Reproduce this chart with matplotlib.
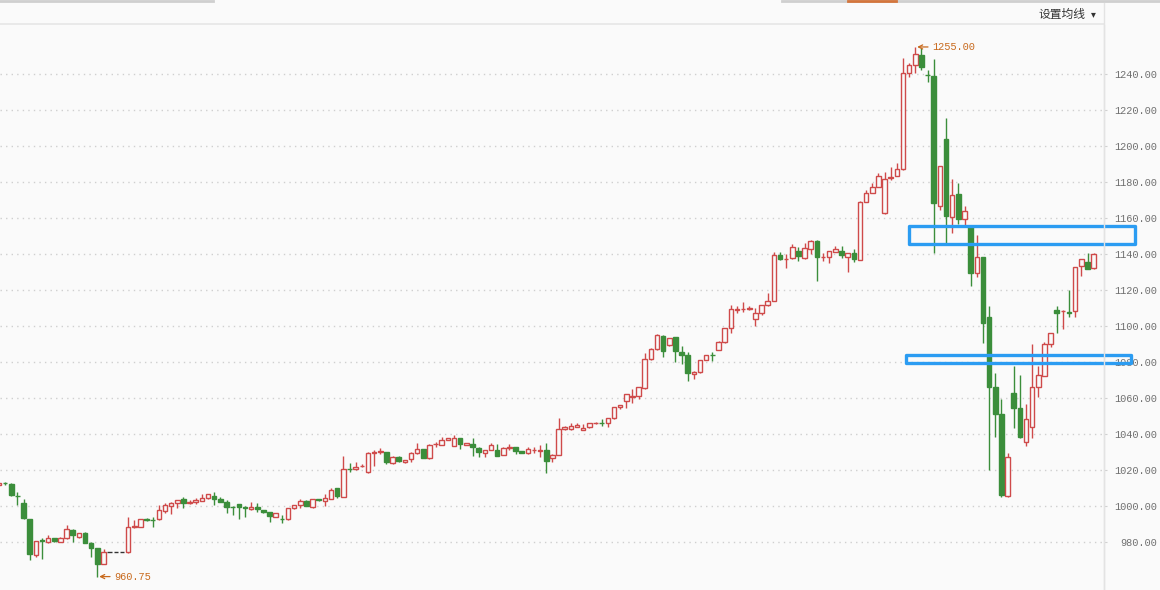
import matplotlib
matplotlib.use('Agg')
import matplotlib.pyplot as plt
from matplotlib.patches import Rectangle
from matplotlib.lines import Line2D
import numpy as np

# ---------------- data ----------------
opens = [1011.7, 1012.6, 1012.2, 1005.8, 1001.5, 992.6, 972.8, 980.9, 979.8, 982.0,
         980.2, 982.0, 986.7, 983.0, 985.2, 979.6, 976.5, 967.8, 974.6, 974.6,
         974.6, 974.3, 988.3, 988.5, 992.8, 992.3, 992.6, 997.2, 1000.2, 1001.5,
         1003.7, 1001.5, 1002.2, 1002.8, 1004.3, 1005.6, 1003.9, 1002.2, 999.6, 1000.9,
         999.4, 998.2, 999.3, 997.8, 996.5, 994.1, 992.9, 992.8, 998.7, 1000.4,
         1002.8, 999.6, 1003.7, 1003.0, 1004.1, 1009.8, 1005.2, 1020.5, 1020.4, 1022.2,
         1018.7, 1029.3, 1030.2, 1029.8, 1023.7, 1027.4, 1024.3, 1025.9, 1029.3, 1031.5,
         1026.5, 1034.3, 1033.9, 1036.7, 1033.3, 1037.6, 1033.9, 1034.4, 1032.4, 1029.6,
         1031.1, 1031.1, 1028.3, 1032.0, 1032.6, 1030.6, 1029.3, 1031.1, 1030.6, 1031.1,
         1026.9, 1028.3, 1042.6, 1042.6, 1044.1, 1042.2, 1043.7, 1046.0, 1046.3, 1045.9,
         1048.7, 1054.8, 1058.5, 1060.4, 1061.3, 1065.4, 1081.5, 1087.0, 1094.4, 1089.4,
         1093.7, 1085.7, 1083.9, 1073.3, 1074.3, 1081.1, 1084.0, 1086.7, 1090.9, 1098.7,
         1108.6, 1109.3, 1109.3, 1103.7, 1107.4, 1111.5, 1114.1, 1139.4, 1137.0, 1137.6,
         1141.7, 1138.0, 1142.6, 1147.2, 1138.1, 1138.1, 1141.3, 1141.7, 1138.5, 1140.4,
         1136.7, 1169.1, 1174.1, 1177.4, 1162.6, 1182.4, 1183.5, 1187.0, 1240.7, 1245.0,
         1250.6, 1239.6, 1238.9, 1166.7, 1204.0, 1160.7, 1173.3, 1159.3, 1155.2, 1129.3,
         1138.3, 1104.8, 1065.9, 1051.1, 1005.6, 1063.0, 1054.6, 1035.7, 1043.7, 1065.9,
         1072.4, 1089.8, 1108.9, 1108.3, 1108.0, 1108.5, 1133.3, 1135.4, 1132.0]
highs = [1013.0, 1013.5, 1012.6, 1008.0, 1003.7, 992.8, 980.8, 982.0, 983.9, 982.4,
         982.6, 989.5, 987.0, 985.2, 985.8, 979.8, 976.8, 975.9, 974.6, 974.6,
         974.6, 993.7, 992.2, 992.8, 993.5, 993.7, 1000.6, 1001.5, 1002.4, 1003.2,
         1004.8, 1003.3, 1004.6, 1006.7, 1006.9, 1007.6, 1004.8, 1003.3, 999.8, 1001.1,
         1000.2, 1002.2, 1001.5, 998.0, 996.7, 996.1, 995.2, 998.9, 1000.8, 1003.7,
         1003.3, 1003.9, 1003.9, 1006.5, 1010.2, 1010.0, 1027.8, 1023.7, 1024.6, 1023.5,
         1030.2, 1031.1, 1032.0, 1030.0, 1027.6, 1027.6, 1025.8, 1030.2, 1034.8, 1031.7,
         1034.3, 1035.7, 1038.5, 1037.8, 1039.4, 1037.8, 1035.0, 1037.6, 1032.6, 1031.3,
         1034.8, 1034.4, 1033.0, 1034.4, 1032.8, 1030.8, 1033.0, 1032.6, 1033.9, 1034.8,
         1028.6, 1048.7, 1044.4, 1046.0, 1046.3, 1045.5, 1046.1, 1046.5, 1048.1, 1048.9,
         1055.0, 1056.1, 1062.2, 1065.0, 1066.1, 1084.8, 1087.6, 1095.4, 1095.2, 1093.3,
         1093.9, 1088.9, 1085.7, 1074.8, 1081.3, 1084.1, 1085.4, 1091.9, 1099.0, 1111.7,
         1111.1, 1113.2, 1111.1, 1109.8, 1111.7, 1118.2, 1140.9, 1140.9, 1139.8, 1145.6,
         1143.7, 1145.9, 1147.8, 1147.8, 1140.7, 1141.9, 1144.4, 1144.4, 1140.6, 1142.6,
         1169.3, 1175.6, 1179.6, 1185.2, 1185.7, 1188.5, 1190.4, 1248.7, 1245.9, 1255.0,
         1254.3, 1242.2, 1248.1, 1189.1, 1215.4, 1181.5, 1179.6, 1166.7, 1155.6, 1150.6,
         1138.5, 1111.1, 1074.1, 1059.3, 1029.3, 1077.8, 1072.8, 1056.7, 1090.0, 1077.8,
         1091.3, 1096.1, 1111.1, 1108.9, 1120.0, 1133.0, 1137.4, 1140.4, 1140.4]
lows = [1011.0, 1011.8, 1005.3, 1000.6, 992.6, 970.0, 971.9, 970.4, 979.2, 980.2,
        979.7, 981.8, 980.2, 982.0, 979.3, 971.9, 960.75, 967.5, 974.6, 974.6,
        974.6, 974.0, 988.0, 988.2, 991.5, 988.2, 992.2, 996.3, 995.6, 998.7,
        999.1, 1001.2, 1000.9, 1002.6, 1004.1, 1000.6, 1002.2, 996.3, 995.0, 992.8,
        993.7, 998.0, 996.9, 996.3, 991.3, 993.8, 990.4, 992.2, 998.5, 998.7,
        999.8, 999.1, 1003.0, 1000.2, 1003.9, 1004.3, 1004.9, 1019.1, 1019.8, 1021.8,
        1018.5, 1022.4, 1028.7, 1023.3, 1023.5, 1024.3, 1024.1, 1024.6, 1029.1, 1026.7,
        1026.0, 1033.0, 1033.7, 1036.5, 1033.1, 1031.5, 1033.7, 1027.8, 1027.0, 1027.0,
        1030.9, 1027.6, 1028.1, 1031.1, 1028.7, 1029.4, 1029.1, 1029.3, 1027.4, 1018.1,
        1024.6, 1028.1, 1042.4, 1042.4, 1043.9, 1042.0, 1043.2, 1045.8, 1044.4, 1044.1,
        1048.5, 1053.7, 1054.6, 1057.4, 1059.6, 1065.2, 1081.3, 1086.8, 1083.0, 1088.9,
        1080.2, 1078.9, 1069.6, 1070.5, 1074.1, 1080.9, 1080.8, 1086.5, 1090.7, 1096.3,
        1107.0, 1108.0, 1109.1, 1100.0, 1106.1, 1111.3, 1113.9, 1136.8, 1132.4, 1137.4,
        1136.3, 1137.0, 1140.0, 1125.2, 1136.3, 1135.2, 1141.1, 1138.0, 1130.2, 1135.7,
        1136.5, 1168.9, 1173.9, 1177.2, 1162.4, 1181.1, 1183.3, 1186.5, 1238.1, 1240.4,
        1242.2, 1235.7, 1140.7, 1164.4, 1145.9, 1151.9, 1156.9, 1156.1, 1122.2, 1127.0,
        1090.4, 1020.0, 1038.1, 1004.8, 1005.2, 1043.2, 1038.0, 1033.3, 1037.6, 1060.8,
        1072.2, 1088.1, 1096.3, 1098.1, 1104.8, 1105.2, 1127.8, 1131.5, 1131.8]
closes = [1012.5, 1012.5, 1005.9, 1005.5, 993.2, 973.3, 980.6, 980.6, 982.0, 980.6,
          982.0, 987.0, 983.7, 984.8, 979.6, 976.5, 967.8, 974.3, 974.6, 974.6,
          974.6, 988.2, 988.6, 992.6, 992.3, 992.1, 997.8, 1000.6, 1001.9, 1003.2,
          1001.9, 1002.4, 1003.3, 1004.3, 1006.7, 1003.9, 1002.4, 999.6, 999.3, 999.6,
          998.7, 999.3, 998.3, 996.9, 994.6, 995.9, 992.8, 998.7, 1000.6, 1002.8,
          1000.0, 1003.7, 1003.2, 1004.3, 1008.9, 1005.6, 1020.4, 1020.4, 1021.5, 1022.3,
          1029.3, 1030.2, 1030.3, 1024.6, 1027.4, 1025.0, 1025.6, 1029.3, 1031.5, 1026.9,
          1033.9, 1034.4, 1036.7, 1037.6, 1037.6, 1034.3, 1034.8, 1033.0, 1030.2, 1031.1,
          1033.9, 1027.8, 1032.0, 1033.0, 1030.7, 1029.6, 1031.5, 1031.2, 1031.1, 1025.0,
          1028.4, 1042.6, 1043.7, 1044.4, 1045.0, 1043.1, 1045.9, 1046.3, 1046.2, 1048.7,
          1054.8, 1055.9, 1062.0, 1061.3, 1065.9, 1081.5, 1087.0, 1095.0, 1086.3, 1093.1,
          1086.3, 1083.7, 1073.7, 1074.6, 1081.1, 1083.9, 1083.9, 1090.9, 1098.7, 1109.3,
          1109.4, 1109.4, 1110.0, 1107.0, 1111.5, 1113.9, 1139.4, 1137.0, 1137.1, 1143.7,
          1139.1, 1143.2, 1147.2, 1138.5, 1138.2, 1141.7, 1142.8, 1139.6, 1140.4, 1137.2,
          1169.1, 1174.1, 1177.4, 1183.5, 1181.5, 1183.0, 1187.0, 1240.7, 1245.0, 1250.9,
          1243.7, 1239.4, 1168.1, 1188.9, 1161.3, 1172.8, 1159.3, 1163.9, 1129.6, 1138.1,
          1101.5, 1066.3, 1051.1, 1006.1, 1027.2, 1054.6, 1038.2, 1048.3, 1066.3, 1072.8,
          1090.0, 1095.9, 1107.4, 1108.4, 1107.0, 1132.6, 1137.0, 1131.7, 1140.0]

ytick_values = [980, 1000, 1020, 1040, 1060, 1080, 1100, 1120, 1140, 1160, 1180, 1200, 1220, 1240]
high_mark = 1255.00
low_mark = 960.75
box_low = [1145.3, 1079.4]
box_high = [1155.6, 1083.9]
box_start = [148.0, 147.5]
box_end = [184.7, 184.1]
header_label = '设置均线'

# ---------------- style ----------------
BG = '#fafafa'
RED = '#cf4a4a'
GREEN = '#3b8e3b'
FLAT = '#333333'
BLUE = '#2b9cf2'
MARK = '#c8691c'
LABEL = '#707070'

W, H = 1160, 590
fig = plt.figure(figsize=(W / 100, H / 100), dpi=100, facecolor=BG)
ax = fig.add_axes([0, 0, 1104 / W, 565 / H])
ax.set_facecolor(BG)

o = np.array(opens); h = np.array(highs); l = np.array(lows); c = np.array(closes)
x = np.arange(len(o))
up = c >= o
flat = (h - l) < 1e-9
edge = np.where(flat, FLAT, np.where(up, RED, GREEN))
face = np.where(flat, FLAT, np.where(up, BG, GREEN))

ax.vlines(x, l, h, colors=edge, linewidth=1.0, zorder=2)
ax.bar(x, np.abs(c - o), bottom=np.minimum(o, c), width=0.74,
       color=face, edgecolor=edge, linewidth=1.0, zorder=3)

ax.set_xlim(0.17, 179.68)
ax.set_ylim(953.3, 1267.2)

ax.set_yticks(ytick_values)
ax.set_yticklabels([f'{v:.2f}' for v in ytick_values])
ax.yaxis.tick_right()
ax.tick_params(axis='y', length=2.0, width=0.8, color='#d0d0d0', direction='out',
               pad=36.0, labelsize=7.4, labelcolor=LABEL)
for lab in ax.get_yticklabels():
    lab.set_horizontalalignment('right')
    lab.set_fontfamily('Liberation Mono')
ax.set_xticks([])
ax.grid(axis='y', color='#cfcfcf', linestyle=(0, (1, 3)), linewidth=1.0)
ax.set_axisbelow(True)
for s in ['top', 'left', 'bottom']:
    ax.spines[s].set_visible(False)
ax.spines['right'].set_color('#e3e3e3')
ax.spines['right'].set_linewidth(1.0)

# high / low marks
hi_i = int(np.argmax(h)); lo_i = int(np.argmin(l))
for idx, val in [(hi_i, high_mark), (lo_i, low_mark)]:
    ax.annotate(f'{val:.2f}', xy=(idx + 0.3, val), xytext=(15, 0),
                textcoords='offset pixels', va='center', ha='left', color=MARK,
                fontsize=7.4, family='Liberation Mono',
                arrowprops=dict(arrowstyle='->', color=MARK, lw=0.9, shrinkA=1, shrinkB=0))

# highlight boxes
for x0, x1, y0, y1 in zip(box_start, box_end, box_low, box_high):
    ax.add_patch(Rectangle((x0, y0), x1 - x0, y1 - y0, fill=False, edgecolor=BLUE,
                           linewidth=2.4, joinstyle='round', zorder=5, clip_on=False))

# header strip
fig.add_artist(Line2D([0, 1104 / W], [1 - 24 / H, 1 - 24 / H], color='#e6e6e6', lw=1.2))
fig.add_artist(Line2D([1104 / W, 1104 / W], [0, 1 - 3 / H], color='#e3e3e3', lw=1.0))
fig.add_artist(Line2D([0, 213 / W], [1 - 1 / H, 1 - 1 / H], color='#cfcfcf', lw=2.0))
fig.add_artist(Line2D([782 / W, 1], [1 - 1 / H, 1 - 1 / H], color='#cfcfcf', lw=2.0))
fig.add_artist(Line2D([848 / W, 896 / W], [1 - 1 / H, 1 - 1 / H], color='#d4753c', lw=2.0))
fig.text(1086 / W, 1 - 14 / H, header_label, ha='right', va='center', fontsize=8.5,
         color='#333333', family=['Noto Sans CJK SC', 'DejaVu Sans'])
fig.text(1093 / W, 1 - 14 / H, '▾', ha='center', va='center', fontsize=7,
         color='#333333', family='DejaVu Sans')

fig.savefig('out.png', dpi=100, facecolor=BG)
